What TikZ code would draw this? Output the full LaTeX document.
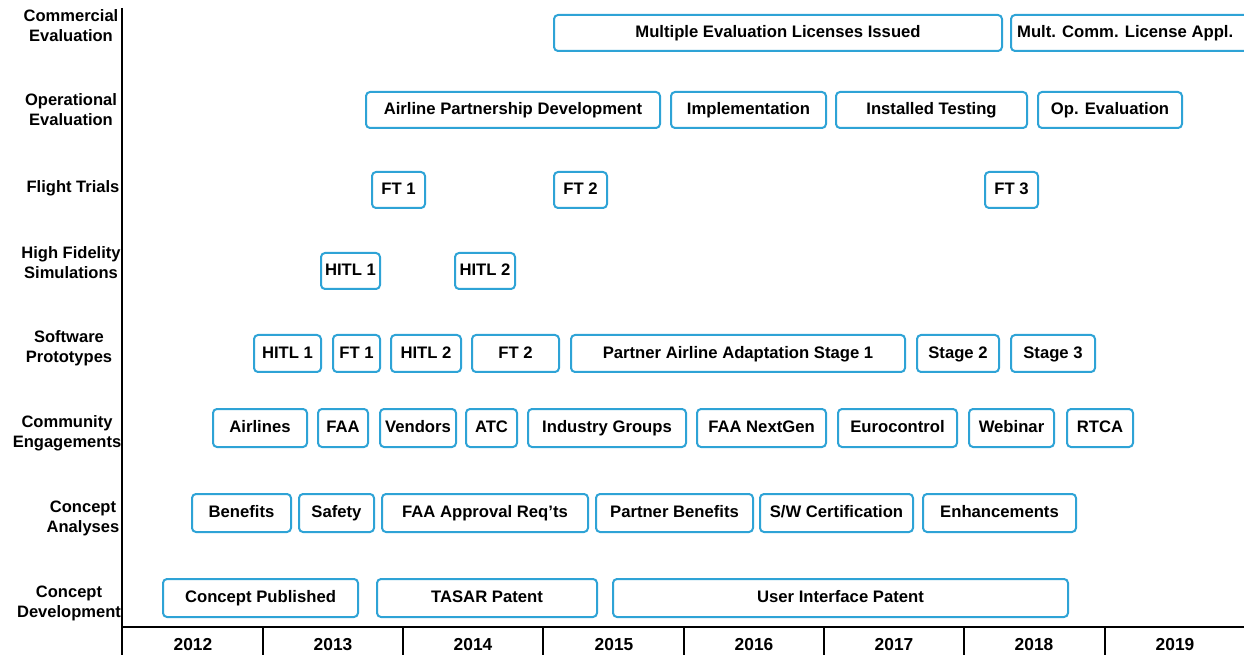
\documentclass[tikz,border=0pt]{standalone}
\usepackage{fontspec}
\setmainfont{Liberation Sans}
\begin{document}
\begin{tikzpicture}[x=0.75pt,y=-0.75pt,
  box/.style={draw=boxblue, line width=1.5pt, rounded corners=3pt, inner sep=0pt,
    font=\fontsize{12.5}{14}\selectfont\bfseries, fill=white,
    text height=0.72em, text depth=0pt},
  rowlabel/.style={align=center, inner sep=0pt, font=\fontsize{12.4}{15}\selectfont\bfseries},
  yearlabel/.style={inner sep=0pt, font=\fontsize{13}{15}\selectfont\bfseries},
  axis/.style={line width=1.5pt, black},
  tick/.style={line width=1.2pt, black}]
\definecolor{boxblue}{HTML}{2EA3D6}
\newcommand\tbox[6]{\node[box, minimum width={(#4-#2)*0.75pt}, minimum height={(#5-#3)*0.75pt}] (#1) at ({(#2+#4)/2},{(#3+#5)/2}) {#6};}
\useasboundingbox (0,0) rectangle (1244,655);
% axes
\coordinate (atop) at (122,8);
\coordinate (abot) at (122,655);
\coordinate (hl) at (122,627);
\coordinate (hr) at (1244,627);
\draw[axis] (atop) -- (abot);
\draw[axis] (hl) -- (hr);
\foreach \x in {263,403,543,684,824,964,1105}{
  \coordinate (t\x a) at (\x,627);
  \coordinate (t\x b) at (\x,655);
  \draw[tick] (t\x a) -- (t\x b);
}
\foreach \yr/\x in {2012/193,2013/333,2014/473,2015/614,2016/754,2017/894,2018/1034,2019/1175}{
  \node[yearlabel] (y\yr) at (\x,645) {\yr};
}
% row labels
\node[rowlabel] (l1) at (71,26) {Commercial\\Evaluation};
\node[rowlabel] (l2) at (71,110) {Operational\\Evaluation};
\node[rowlabel] (l3) at (73,188) {Flight Trials};
\node[rowlabel] (l4) at (71,263) {High Fidelity\\Simulations};
\node[rowlabel] (l5) at (69,348) {Software\\Prototypes};
\node[rowlabel] (l6) at (67,433) {Community\\Engagements};
\node[rowlabel] (l7) at (83,518) {Concept\\Analyses};
\node[rowlabel] (l8) at (69,603) {Concept\\Development};
% row 1
\tbox{c1}{554}{15}{1002}{51}{Multiple Evaluation Licenses Issued}
\tbox{c2}{1011}{15}{1250}{51}{\hspace*{-8pt}Mult. Comm. License Appl.}
% row 2
\tbox{o1}{366}{92}{660}{128}{Airline Partnership Development}
\tbox{o2}{671}{92}{826}{128}{Implementation}
\tbox{o3}{836}{92}{1027}{128}{Installed Testing}
\tbox{o4}{1038}{92}{1182}{128}{Op. Evaluation}
% row 3
\tbox{f1}{372}{172}{425}{208}{FT 1}
\tbox{f2}{554}{172}{607}{208}{FT 2}
\tbox{f3}{985}{172}{1038}{208}{FT 3}
% row 4
\tbox{h1}{321}{253}{380}{289}{HITL 1}
\tbox{h2}{455}{253}{515}{289}{HITL 2}
% row 5
\tbox{s1}{254}{335}{321}{372}{HITL 1}
\tbox{s2}{333}{335}{380}{372}{FT 1}
\tbox{s3}{391}{335}{461}{372}{HITL 2}
\tbox{s4}{472}{335}{559}{372}{FT 2}
\tbox{s5}{571}{335}{905}{372}{Partner Airline Adaptation Stage 1}
\tbox{s6}{917}{335}{999}{372}{Stage 2}
\tbox{s7}{1011}{335}{1095}{372}{Stage 3}
% row 6
\tbox{e1}{213}{409}{307}{447}{Airlines}
\tbox{e2}{318}{409}{368}{447}{FAA}
\tbox{e3}{380}{409}{456}{447}{Vendors}
\tbox{e4}{466}{409}{517}{447}{ATC}
\tbox{e5}{528}{409}{686}{447}{Industry Groups}
\tbox{e6}{697}{409}{826}{447}{FAA NextGen}
\tbox{e7}{838}{409}{957}{447}{Eurocontrol}
\tbox{e8}{969}{409}{1054}{447}{Webinar}
\tbox{e9}{1067}{409}{1133}{447}{RTCA}
% row 7
\tbox{a1}{192}{494}{291}{532}{Benefits}
\tbox{a2}{299}{494}{374}{532}{Safety}
\tbox{a3}{382}{494}{588}{532}{FAA Approval Req’ts}
\tbox{a4}{596}{494}{753}{532}{Partner Benefits}
\tbox{a5}{760}{494}{913}{532}{S/W Certification}
\tbox{a6}{923}{494}{1076}{532}{Enhancements}
% row 8
\tbox{d1}{163}{579}{358}{617}{Concept Published}
\tbox{d2}{377}{579}{597}{617}{TASAR Patent}
\tbox{d3}{613}{579}{1068}{617}{User Interface Patent}
\end{tikzpicture}
\end{document}
